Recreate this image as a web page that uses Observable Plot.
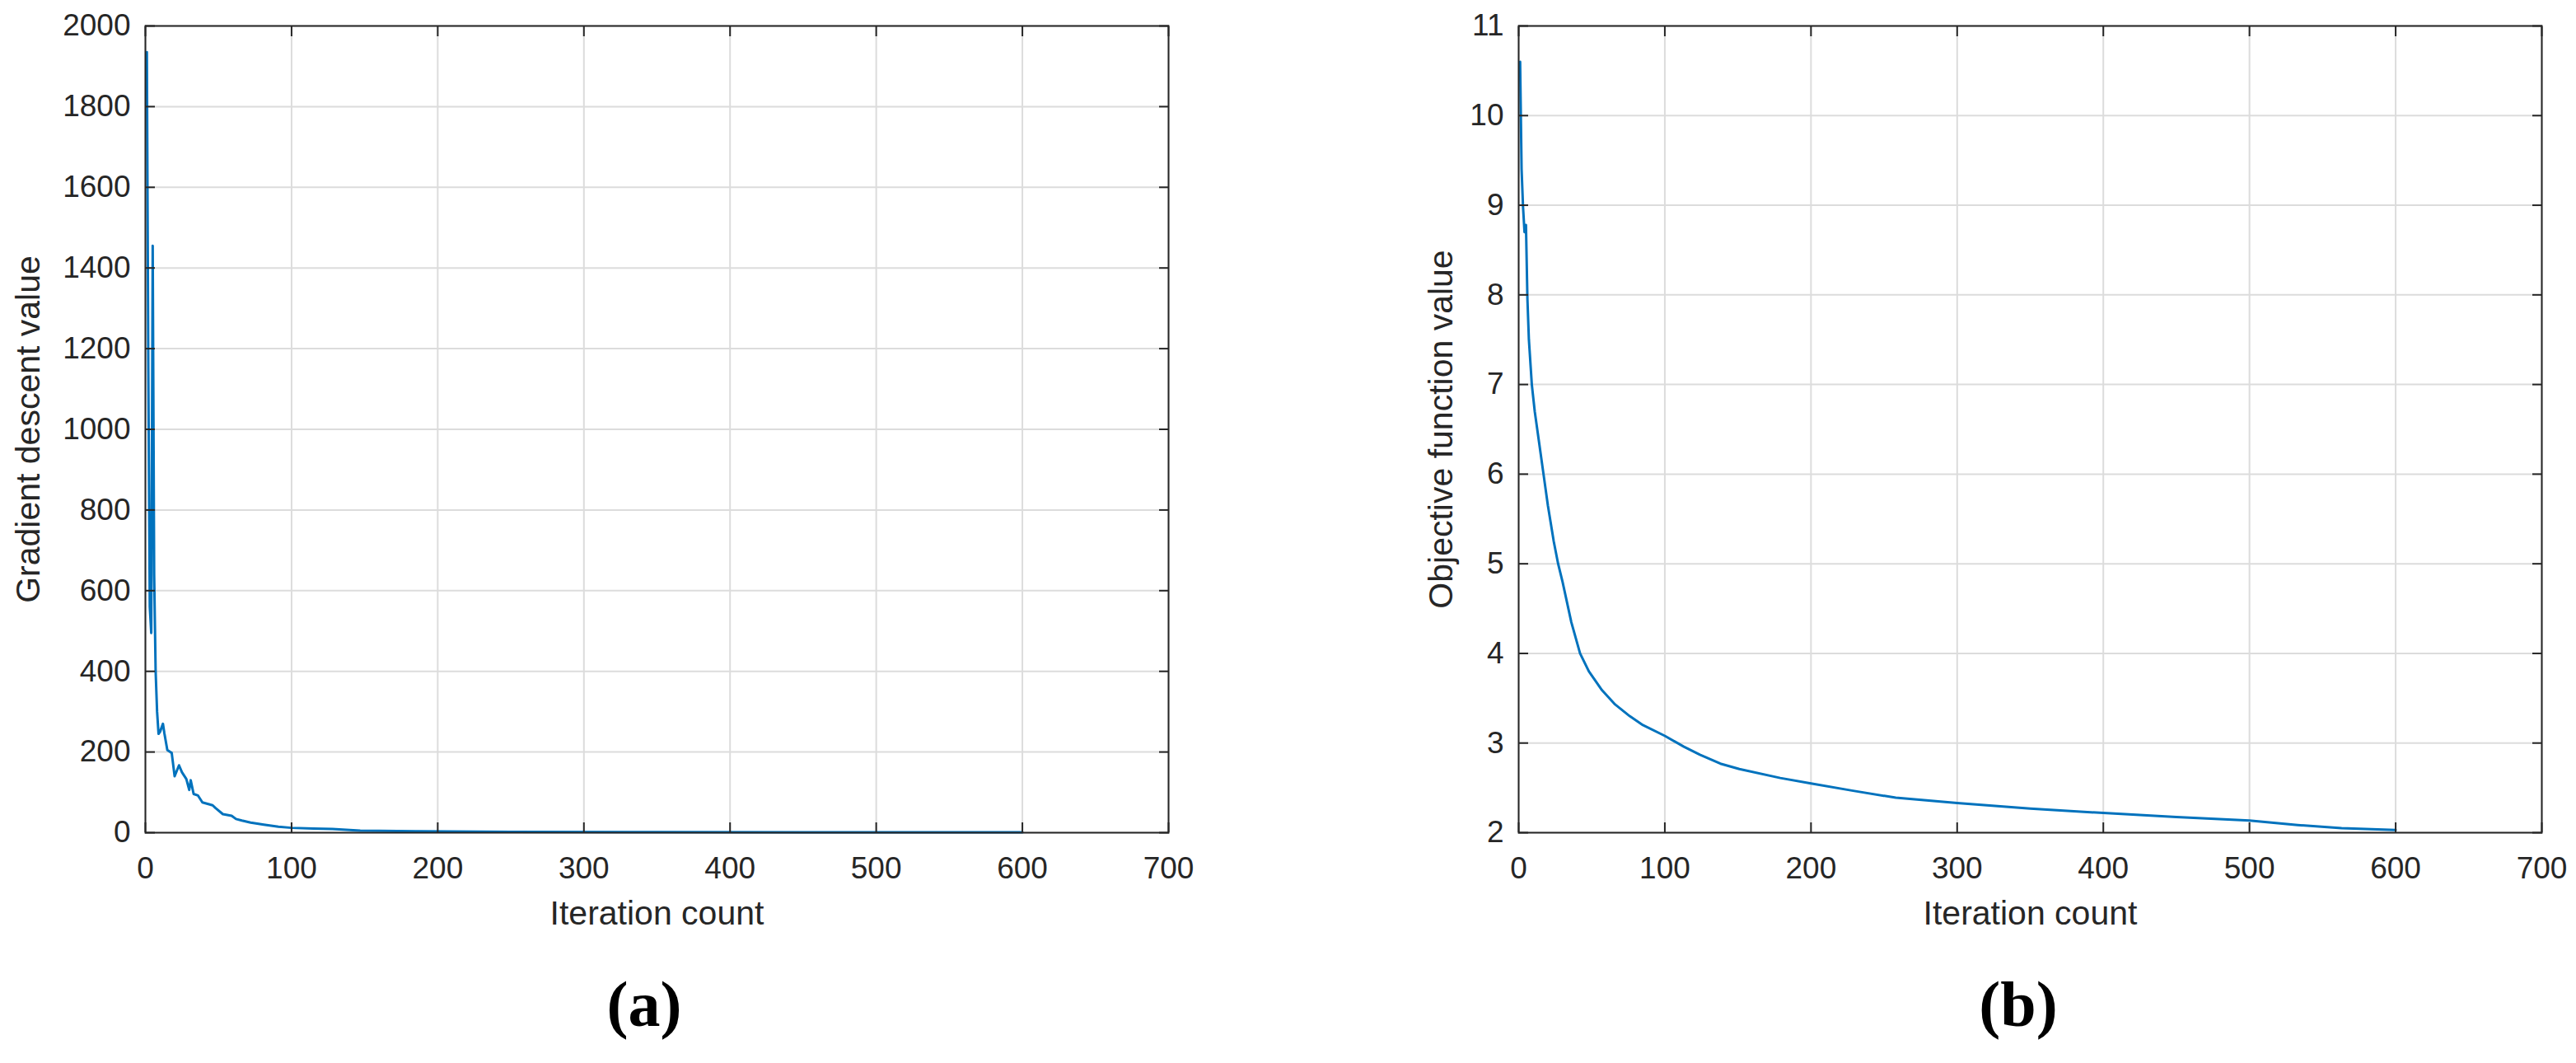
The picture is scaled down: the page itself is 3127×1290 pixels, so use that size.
<!DOCTYPE html>
<html>
<head>
<meta charset="utf-8">
<script src="https://cdn.jsdelivr.net/npm/d3@7"></script>
<script src="https://cdn.jsdelivr.net/npm/@observablehq/plot@0.6"></script>
<style>
  html, body { margin: 0; padding: 0; background: #fff; }
  body { width: 3127px; height: 1290px; position: relative; overflow: hidden; font-family: "Liberation Sans", Arial, sans-serif; }
  .panel { position: absolute; top: 0; }
  .caption { position: absolute; top: 1180px; font-family: "Liberation Serif", serif; font-weight: bold; font-size: 78px; line-height: 1; color: #000; transform: translateX(-50%); white-space: nowrap; }
</style>
</head>
<body>
<div id="panelA" class="panel" style="left:0px"></div>
<div id="panelB" class="panel" style="left:1560px"></div>
<div class="caption" style="left:782px">(a)</div>
<div class="caption" style="left:2450px">(b)</div>
<script>
// ---- Data ----
const xTicks = [0, 100, 200, 300, 400, 500, 600, 700];
const xLabel = "Iteration count";

// (a) Gradient descent value
const gradIter = [1, 2, 3, 4, 5, 6, 7, 8, 9, 10, 12, 13, 15, 17, 18, 20, 23, 25, 28, 30, 31, 33, 36, 39, 42, 46, 48, 53, 56, 59, 62, 66, 72, 81, 91, 100, 115, 128, 147, 185, 250, 350, 450, 600];
const gradValue = [1935, 1150, 560, 495, 1455, 640, 400, 300, 245, 250, 270, 246, 205, 200, 198, 140, 167, 150, 133, 106, 130, 96, 92, 75, 72, 68, 61, 46, 44, 42, 34, 30, 25, 20, 15, 12, 10, 9, 5, 3.4, 2, 1.5, 1.2, 1];
const gradTicks = [0, 200, 400, 600, 800, 1000, 1200, 1400, 1600, 1800, 2000];
const gradLabel = "Gradient descent value";

// (b) Objective function value
const objIter = [1, 2, 3, 4, 5, 6, 7, 9, 11, 14, 17, 20, 24, 27, 30, 36, 42, 48, 57, 66, 76, 85, 100, 113, 124, 138, 151, 179, 200, 228, 258, 300, 350, 400, 450, 500, 533, 563, 600];
const objValue = [10.6, 9.4, 8.98, 8.7, 8.78, 7.95, 7.5, 7.0, 6.7, 6.35, 6.0, 5.65, 5.25, 5.0, 4.8, 4.35, 4.0, 3.8, 3.59, 3.43, 3.3, 3.2, 3.08, 2.96, 2.87, 2.77, 2.71, 2.61, 2.55, 2.47, 2.39, 2.33, 2.27, 2.22, 2.175, 2.135, 2.085, 2.05, 2.03];
const objTicks = [2, 3, 4, 5, 6, 7, 8, 9, 10, 11];
const objLabel = "Objective function value";

// ---- Drawing ----
const plain = d => String(d);
function panel({iters, values, yTicks, yLabel, width, marginLeft, marginRight, yLabelDx}) {
  const data = iters.map((x, i) => ({x, y: values[i]}));
  const gridStyle = {stroke: "#dcdcdc", strokeOpacity: 1, strokeWidth: 2};
  return Plot.plot({
    width,
    height: 1130,
    marginLeft,
    marginRight,
    marginTop: 31,
    marginBottom: 120,
    style: {fontFamily: "'Liberation Sans', Arial, sans-serif", fontSize: "37px", color: "#262626", background: "#fff"},
    x: {domain: [xTicks[0], xTicks[xTicks.length - 1]]},
    y: {domain: [yTicks[0], yTicks[yTicks.length - 1]]},
    marks: [
      Plot.gridX(xTicks, gridStyle),
      Plot.gridY(yTicks, gridStyle),
      Plot.line(data, {x: "x", y: "y", stroke: "#0072BD", strokeWidth: 3}),
      Plot.axisX(xTicks, {anchor: "bottom", tickSize: -12, tickPadding: 41, strokeWidth: 2, label: null, fontSize: 37, tickFormat: plain}),
      Plot.axisX(xTicks, {anchor: "top", tickSize: -12, tickFormat: () => "", strokeWidth: 2, label: null}),
      Plot.axisY(yTicks, {anchor: "left", tickSize: -12, tickPadding: 30, strokeWidth: 2, label: null, fontSize: 37, tickFormat: plain}),
      Plot.axisY(yTicks, {anchor: "right", tickSize: -12, tickFormat: () => "", strokeWidth: 2, label: null}),
      Plot.frame({stroke: "#262626", strokeWidth: 2}),
      Plot.text([xLabel], {text: d => d, frameAnchor: "bottom", dy: 82, lineAnchor: "top", textAnchor: "middle", fontSize: 41, fill: "#262626"}),
      Plot.text([yLabel], {text: d => d, frameAnchor: "left", dx: yLabelDx, rotate: -90, lineAnchor: "top", textAnchor: "middle", fontSize: 41, fill: "#262626"})
    ]
  });
}

document.getElementById("panelA").append(panel({
  iters: gradIter, values: gradValue, yTicks: gradTicks, yLabel: gradLabel,
  width: 1560, marginLeft: 176, marginRight: 142, yLabelDx: -158
}));
document.getElementById("panelB").append(panel({
  iters: objIter, values: objValue, yTicks: objTicks, yLabel: objLabel,
  width: 1567, marginLeft: 283, marginRight: 42, yLabelDx: -110
}));
</script>
</body>
</html>
